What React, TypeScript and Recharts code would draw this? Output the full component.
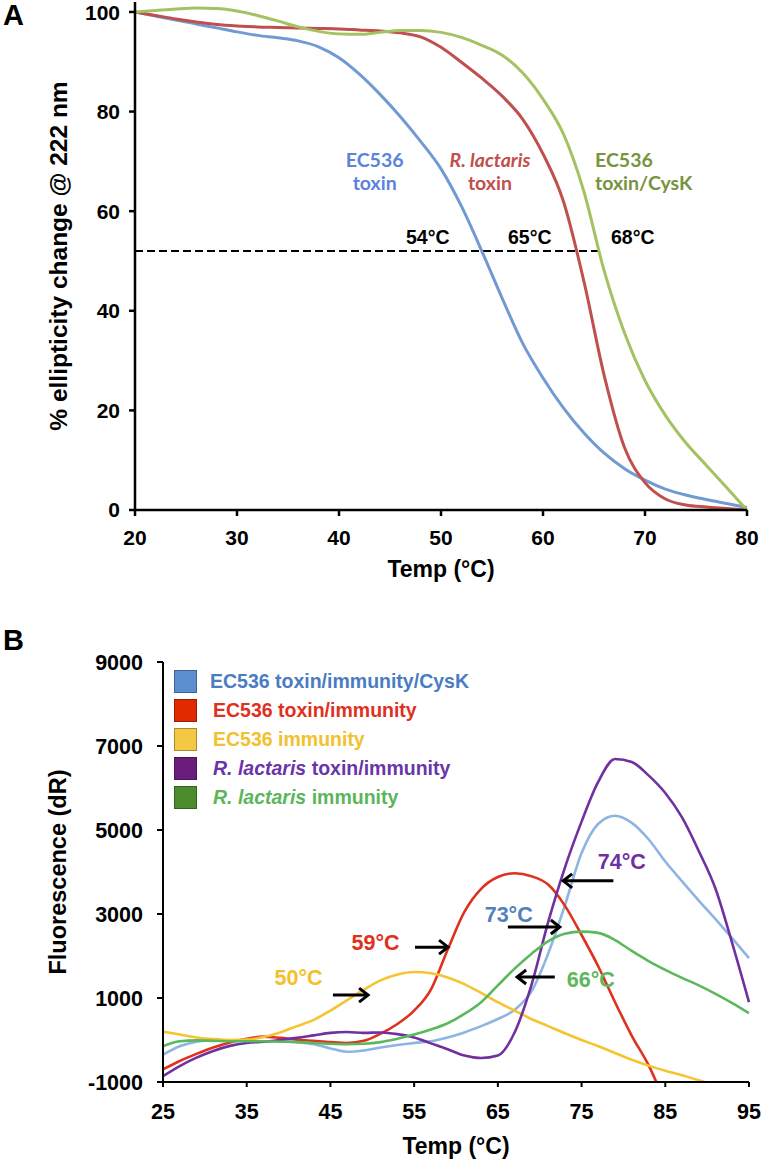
import React from "react";
import {
  LineChart,
  Line,
  XAxis,
  YAxis,
  ReferenceLine,
  ReferenceDot,
  Legend,
} from "recharts";

// ---------- panel A: CD melt ----------
const tempA = [20, 22, 24, 26, 28, 30, 32, 34, 36, 38, 40, 42, 44, 46, 48, 50, 52, 54, 56, 58, 60, 62, 64, 66, 68, 70, 72, 74, 76, 78, 80];
const ec536Toxin = [100, 99.2, 98.4, 97.6, 96.8, 96, 95.3, 94.8, 94.2, 93, 90.8, 87.5, 83.5, 79, 74, 68.5, 61, 52, 42.5, 33.5, 26.5, 20.5, 15.5, 11.4, 8.3, 6, 4.2, 3, 2.1, 1.3, 0.5];
const rLactarisToxin = [100, 99.3, 98.6, 98, 97.5, 97.2, 97, 96.9, 96.8, 96.7, 96.6, 96.4, 96.2, 95.8, 95, 92.9, 89.9, 86.7, 83.1, 78.5, 71.5, 62, 46, 27, 12.5, 5.5, 2.2, 1, 0.6, 0.3, 0];
const ec536ToxinCysK = [100, 100.3, 100.6, 100.8, 100.7, 100.2, 99.3, 98.2, 97, 96.1, 95.6, 95.5, 95.9, 96.3, 96.3, 95.9, 94.9, 93.3, 91.3, 87.8, 82.5, 75.5, 64, 48, 35.5, 26, 19, 13.5, 9, 4.5, 0];
const ticksAX = [20, 30, 40, 50, 60, 70, 80];
const ticksAY = [0, 20, 40, 60, 80, 100];

// ---------- panel B: thermal shift ----------
const tempB = [25, 27, 29, 31, 33, 35, 37, 39, 41, 43, 45, 47, 49, 51, 53, 55, 57, 59, 61, 63, 65, 67, 69, 71, 73, 75, 77, 79, 81, 83, 85, 87, 89, 91, 93, 95];
const toxImmCysK = [-350, -150, -40, 0, -10, -20, -30, -30, -50, -100, -200, -280, -250, -180, -120, -70, -30, 60, 180, 330, 500, 720, 1150, 2050, 3200, 4450, 5150, 5340, 5170, 4780, 4250, 3780, 3320, 2880, 2420, 1950];
const toxImm = [-700, -500, -330, -180, -60, 30, 80, 50, 10, -20, -50, -70, -20, 150, 380, 700, 1200, 2150, 3050, 3600, 3880, 3970, 3900, 3700, 3200, 2500, 1750, 900, 100, -600, -1500, null, null, null, null, null];
const immunity = [200, 130, 60, 20, 0, 10, 70, 180, 330, 480, 700, 950, 1200, 1420, 1560, 1620, 1590, 1490, 1330, 1120, 900, 700, 500, 330, 160, 0, -150, -310, -470, -610, -730, -840, -960, -1080, null, null];
const rlToxImm = [-860, -620, -420, -260, -140, -70, -40, 0, 50, 110, 170, 190, 170, 180, 140, 60, -80, -220, -370, -430, -370, 180, 1300, 2800, 4100, 5200, 6150, 6690, 6620, 6300, 5880, 5300, 4500, 3600, 2300, 900];
const rlImm = [-150, -30, -10, -20, -30, -30, -30, -40, -50, -70, -90, -100, -90, -50, 30, 130, 250, 400, 620, 900, 1300, 1700, 2050, 2350, 2530, 2580, 2550, 2380, 2120, 1880, 1670, 1480, 1300, 1100, 880, 640];
const ticksBX = [25, 35, 45, 55, 65, 75, 85, 95];
const ticksBY = [-1000, 1000, 3000, 5000, 7000, 9000];

const dataA = tempA.map((t, i) => ({
  t,
  ec536: ec536Toxin[i],
  rl: rLactarisToxin[i],
  cysk: ec536ToxinCysK[i],
}));

const dataB = tempB.map((t, i) => ({
  t,
  cysk: toxImmCysK[i],
  toxImm: toxImm[i],
  imm: immunity[i],
  rlToxImm: rlToxImm[i],
  rlImm: rlImm[i],
}));

const ARIAL = "'Liberation Sans', Arial, sans-serif";
const CALIBRI = "Lato, 'Open Sans', sans-serif";

const legendOrder = ["cysk", "toxImm", "imm", "rlToxImm", "rlImm"];
const legendB: Record<string, { box: string; color: string; italic?: string; text: string }> = {
  cysk: { box: "#5b8fcf", color: "#4a7cc2", text: "EC536 toxin/immunity/CysK" },
  toxImm: { box: "#e02a00", color: "#e0301e", text: "EC536 toxin/immunity" },
  imm: { box: "#f4c842", color: "#f2c12e", text: "EC536 immunity" },
  rlToxImm: { box: "#6b1d7c", color: "#6a35a8", italic: "R. lactaris", text: " toxin/immunity" },
  rlImm: { box: "#4b8d2c", color: "#5cb55a", italic: "R. lactaris", text: " immunity" },
};

type Part = { t: string; i?: boolean };

const textShape =
  (lines: Part[][], color: string, size: number, family: string, anchor: "middle" | "start" = "middle", lh = 23) =>
  (p: any) => (
    <text
      x={p.cx}
      y={p.cy}
      fill={color}
      fontSize={size}
      fontWeight="bold"
      fontFamily={family}
      textAnchor={anchor}
    >
      {lines.map((ln, k) => (
        <tspan key={k} x={p.cx} dy={k === 0 ? (-(lines.length - 1) * lh) / 2 + size * 0.35 : lh}>
          {ln.map((s, j) => (
            <tspan key={j} fontStyle={s.i ? "italic" : "normal"}>
              {s.t}
            </tspan>
          ))}
        </tspan>
      ))}
    </text>
  );

const arrowShape = (p: any) => {
  const { x1, y1, x2, y2 } = p;
  const d = Math.sign(x2 - x1);
  return (
    <g>
      <line x1={x1} y1={y1} x2={x2} y2={y2} stroke="#000" strokeWidth={3} />
      <polyline
        points={`${x2 - d * 9},${y2 - 7} ${x2},${y2} ${x2 - d * 9},${y2 + 7}`}
        fill="none"
        stroke="#000"
        strokeWidth={3}
      />
    </g>
  );
};

function LegendContent() {
  return (
    <div style={{ fontFamily: ARIAL, fontWeight: "bold", fontSize: 19.5 }}>
      {legendOrder.map((key, k) => {
        const it = legendB[key];
        return (
          <div key={key} style={{ display: "flex", alignItems: "center", height: 29 }}>
            <span
              style={{
                width: 23,
                height: 23,
                background: it.box,
                border: "1px solid rgba(0,0,0,0.3)",
                boxSizing: "border-box",
                marginRight: k === 0 ? 13 : 16,
              }}
            />
            <span style={{ color: it.color, whiteSpace: "nowrap" }}>
              {it.italic && <i>{it.italic}</i>}
              {it.text}
            </span>
          </div>
        );
      })}
    </div>
  );
}

const tickA = { fill: "#000", fontSize: 21, fontWeight: "bold", fontFamily: ARIAL };
const tickB = { fill: "#000", fontSize: 21.5, fontWeight: "bold", fontFamily: ARIAL };

export default function App() {
  return (
    <div style={{ position: "absolute", left: 0, top: 0, width: 763, height: 1164, background: "#fff" }}>
      <div style={{ position: "absolute", left: 3, top: -1, fontFamily: ARIAL, fontWeight: "bold", fontSize: 29 }}>A</div>
      <div style={{ position: "absolute", left: 3, top: 624, fontFamily: ARIAL, fontWeight: "bold", fontSize: 29 }}>B</div>

      <div style={{ position: "absolute", left: 0, top: 0 }}>
        <LineChart width={763} height={590} data={dataA} margin={{ top: 2, right: 16, bottom: 40, left: 40 }}>
          <XAxis
            dataKey="t"
            type="number"
            domain={[20, 80]}
            ticks={ticksAX}
            height={40}
            tick={tickA}
            tickSize={6}
            tickMargin={14}
            stroke="#000"
            strokeWidth={2.5}
            label={{ value: "Temp (°C)", position: "bottom", offset: 11, fill: "#000", fontSize: 23, fontWeight: "bold", fontFamily: ARIAL }}
          />
          <YAxis
            type="number"
            domain={[0, 102]}
            ticks={ticksAY}
            width={95}
            tick={tickA}
            tickSize={6}
            tickMargin={9}
            stroke="#000"
            strokeWidth={2.5}
            allowDataOverflow
            label={{
              value: "% ellipticity change @ 222 nm",
              angle: -90,
              position: "insideLeft",
              offset: 18,
              fill: "#000",
              fontSize: 24.5,
              fontWeight: "bold",
              fontFamily: ARIAL,
              style: { textAnchor: "middle" },
            }}
          />
          <ReferenceLine segment={[{ x: 20, y: 52 }, { x: 65.5, y: 52 }]} stroke="#000" strokeWidth={2} strokeDasharray="8 4" />
          <Line dataKey="ec536" type="monotone" stroke="#719ad3" strokeWidth={3} dot={false} isAnimationActive={false} />
          <Line dataKey="rl" type="monotone" stroke="#c0504d" strokeWidth={3} dot={false} isAnimationActive={false} />
          <Line dataKey="cysk" type="monotone" stroke="#a5c262" strokeWidth={3} dot={false} isAnimationActive={false} />
          <ReferenceDot x={48.7} y={54.8} r={0} shape={textShape([[{ t: "54°C" }]], "#000", 19.5, ARIAL)} />
          <ReferenceDot x={58.7} y={54.8} r={0} shape={textShape([[{ t: "65°C" }]], "#000", 19.5, ARIAL)} />
          <ReferenceDot x={68.8} y={54.8} r={0} shape={textShape([[{ t: "68°C" }]], "#000", 19.5, ARIAL)} />
          <ReferenceDot x={43.5} y={68} r={0} shape={textShape([[{ t: "EC536" }], [{ t: "toxin" }]], "#5b82dc", 19.5, CALIBRI)} />
          <ReferenceDot x={54.8} y={68} r={0} shape={textShape([[{ t: "R. lactaris", i: true }], [{ t: "toxin" }]], "#c0504d", 19.5, CALIBRI)} />
          <ReferenceDot x={65.1} y={68} r={0} shape={textShape([[{ t: "EC536" }], [{ t: "toxin/CysK" }]], "#77933c", 19.5, CALIBRI, "start")} />
        </LineChart>
      </div>

      <div style={{ position: "absolute", left: 0, top: 600 }}>
        <LineChart width={763} height={564} data={dataB} margin={{ top: 62, right: 14, bottom: 42, left: 40 }}>
          <XAxis
            dataKey="t"
            type="number"
            domain={[25, 95]}
            ticks={ticksBX}
            height={40}
            tick={tickB}
            tickSize={5}
            tickMargin={17}
            stroke="#000"
            strokeWidth={2}
            label={{ value: "Temp (°C)", position: "bottom", offset: 16, fill: "#000", fontSize: 23, fontWeight: "bold", fontFamily: ARIAL }}
          />
          <YAxis
            type="number"
            domain={[-1000, 9000]}
            ticks={ticksBY}
            width={123}
            tick={tickB}
            tickSize={6}
            tickMargin={14}
            stroke="#000"
            strokeWidth={2}
            allowDataOverflow
            label={{
              value: "Fluorescence (dR)",
              angle: -90,
              position: "insideLeft",
              offset: 18,
              fill: "#000",
              fontSize: 23.5,
              fontWeight: "bold",
              fontFamily: ARIAL,
              style: { textAnchor: "middle" },
            }}
          />
          <Legend
            layout="vertical"
            align="center"
            verticalAlign="middle"
            content={<LegendContent />}
            wrapperStyle={{ left: 174, top: 67, width: 340 }}
          />
          <Line dataKey="cysk" type="monotone" stroke="#8db4e2" strokeWidth={2.6} dot={false} isAnimationActive={false} />
          <Line dataKey="toxImm" type="monotone" stroke="#e0301e" strokeWidth={2.6} dot={false} isAnimationActive={false} />
          <Line dataKey="imm" type="monotone" stroke="#f5c431" strokeWidth={2.6} dot={false} isAnimationActive={false} />
          <Line dataKey="rlToxImm" type="monotone" stroke="#7030a0" strokeWidth={2.6} dot={false} isAnimationActive={false} />
          <Line dataKey="rlImm" type="monotone" stroke="#5cb85c" strokeWidth={2.6} dot={false} isAnimationActive={false} />

          <ReferenceLine segment={[{ x: 78.8, y: 3790 }, { x: 72.8, y: 3790 }]} shape={arrowShape} />
          <ReferenceLine segment={[{ x: 66.2, y: 2690 }, { x: 72.4, y: 2690 }]} shape={arrowShape} />
          <ReferenceLine segment={[{ x: 55.1, y: 2210 }, { x: 59.05, y: 2210 }]} shape={arrowShape} />
          <ReferenceLine segment={[{ x: 45.3, y: 1070 }, { x: 49.5, y: 1070 }]} shape={arrowShape} />
          <ReferenceLine segment={[{ x: 71.8, y: 1500 }, { x: 67.3, y: 1500 }]} shape={arrowShape} />

          <ReferenceDot x={79.8} y={4240} r={0} shape={textShape([[{ t: "74°C" }]], "#7030a0", 21.5, ARIAL)} />
          <ReferenceDot x={66.3} y={2980} r={0} shape={textShape([[{ t: "73°C" }]], "#4f81bd", 21.5, ARIAL)} />
          <ReferenceDot x={50.4} y={2330} r={0} shape={textShape([[{ t: "59°C" }]], "#e0301e", 21.5, ARIAL)} />
          <ReferenceDot x={41.2} y={1500} r={0} shape={textShape([[{ t: "50°C" }]], "#f2c12e", 21.5, ARIAL)} />
          <ReferenceDot x={76.1} y={1450} r={0} shape={textShape([[{ t: "66°C" }]], "#5cb85c", 21.5, ARIAL)} />
        </LineChart>
      </div>
    </div>
  );
}
